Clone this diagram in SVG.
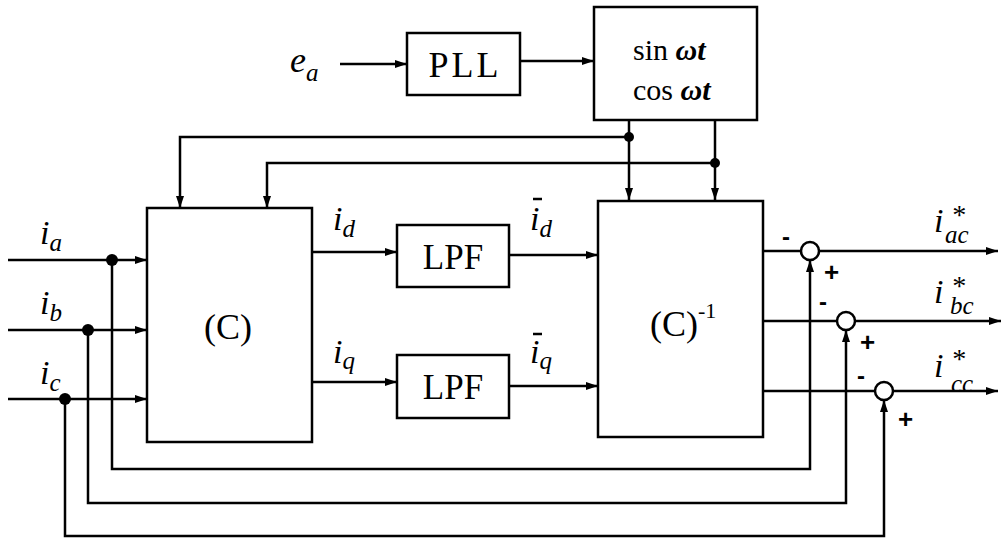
<svg xmlns="http://www.w3.org/2000/svg" width="1003" height="538" viewBox="0 0 1003 538">
<defs>
<marker id="ah" viewBox="0 0 12 8" refX="12" refY="4" markerWidth="12" markerHeight="8" markerUnits="userSpaceOnUse" orient="auto"><path d="M0,0 L12,4 L0,8 z" fill="#000"/></marker>
</defs>
<style>
.box{fill:#fff;stroke:#000;stroke-width:2.5}
.ln{fill:none;stroke:#000;stroke-width:2.5}
.ar{marker-end:url(#ah)}
.dot{fill:#000}
.sum{fill:#fff;stroke:#000;stroke-width:2.5}
.t{font-family:"Liberation Serif",serif;fill:#000}
.it{font-family:"Liberation Serif",serif;font-style:italic;fill:#000}
.sg{font-family:"Liberation Sans",sans-serif;font-weight:bold;fill:#000}
</style>
<rect width="1003" height="538" fill="#fff"/>
<g id="connectors">
<path class="ln ar" d="M340,64 H407"/>
<path class="ln ar" d="M520,61 H594"/>
<path class="ln ar" d="M629,120 V200"/>
<path class="ln ar" d="M715,120 V200"/>
<path class="ln ar" d="M629,137 H180 V208"/>
<path class="ln ar" d="M715,163 H267 V208"/>
<path class="ln ar" d="M8,260 H147"/>
<path class="ln ar" d="M8,330 H147"/>
<path class="ln ar" d="M8,399 H147"/>
<path class="ln ar" d="M312,252 H397"/>
<path class="ln ar" d="M312,382 H397"/>
<path class="ln ar" d="M509,255 H598"/>
<path class="ln ar" d="M509,386 H598"/>
<path class="ln" d="M763,251 H801"/>
<path class="ln ar" d="M819,251 H998"/>
<path class="ln" d="M763,321 H837"/>
<path class="ln ar" d="M855,321 H1001"/>
<path class="ln" d="M763,391 H875"/>
<path class="ln ar" d="M893,391 H998"/>
<path class="ln ar" d="M112,260 V469 H810 V260"/>
<path class="ln ar" d="M88,330 V503 H846 V330"/>
<path class="ln ar" d="M65,399 V536 H884 V400"/>
<circle class="dot" cx="629" cy="137" r="5"/>
<circle class="dot" cx="715" cy="163" r="5"/>
<circle class="dot" cx="112" cy="260" r="6"/>
<circle class="dot" cx="88" cy="330" r="6"/>
<circle class="dot" cx="65" cy="399" r="6"/>
</g>
<g id="PLL">
<rect class="box" x="407" y="33" width="113" height="62"/>
<text class="t" x="465" y="77" font-size="36" letter-spacing="3" text-anchor="middle">PLL</text>
</g>
<g id="sincos">
<rect class="box" x="594" y="7" width="163" height="113"/>
<text class="t" x="633" y="60" font-size="30">sin <tspan class="it" font-weight="bold">ωt</tspan></text>
<text class="t" x="633" y="100" font-size="30">cos <tspan class="it" font-weight="bold">ωt</tspan></text>
</g>
<g id="C">
<rect class="box" x="147" y="208" width="165" height="234"/>
<text class="t" x="228" y="339" font-size="36" text-anchor="middle">(C)</text>
</g>
<g id="LPF1">
<rect class="box" x="397" y="225" width="112" height="62"/>
<text class="t" x="453" y="269" font-size="35" text-anchor="middle">LPF</text>
</g>
<g id="LPF2">
<rect class="box" x="397" y="355" width="112" height="63"/>
<text class="t" x="453" y="399" font-size="35" text-anchor="middle">LPF</text>
</g>
<g id="Cinv">
<rect class="box" x="598" y="201" width="165" height="236"/>
<text class="t" x="650" y="336" font-size="36">(C)<tspan font-size="22" dy="-18">-1</tspan></text>
</g>
<g id="sum1"><circle class="sum" cx="810" cy="251" r="9"/>
<text class="sg" x="782" y="245" font-size="24">-</text><text class="sg" x="824" y="281" font-size="26">+</text></g>
<g id="sum2"><circle class="sum" cx="846" cy="321" r="9"/>
<text class="sg" x="819" y="310" font-size="24">-</text><text class="sg" x="860" y="351" font-size="26">+</text></g>
<g id="sum3"><circle class="sum" cx="884" cy="391" r="9"/>
<text class="sg" x="857" y="384" font-size="24">-</text><text class="sg" x="898" y="428" font-size="26">+</text></g>
<g id="labels">
<text class="it" x="290" y="72" font-size="36">e<tspan font-size="25" dy="9">a</tspan></text>
<text class="it" x="40" y="244" font-size="34">i<tspan font-size="25" dy="7">a</tspan></text>
<text class="it" x="40" y="314" font-size="34">i<tspan font-size="25" dy="7">b</tspan></text>
<text class="it" x="40" y="384" font-size="34">i<tspan font-size="25" dy="7">c</tspan></text>
<text class="it" x="333" y="230" font-size="34">i<tspan font-size="25" dy="7">d</tspan></text>
<text class="it" x="333" y="363" font-size="34">i<tspan font-size="25" dy="6">q</tspan></text>
<text class="it" x="530" y="230" font-size="34">i<tspan font-size="25" dy="7">d</tspan></text>
<path class="ln" d="M533,199 H542"/>
<text class="it" x="530" y="363" font-size="34">i<tspan font-size="25" dy="6">q</tspan></text>
<path class="ln" d="M533,334 H542"/>
<text class="it" x="934" y="232" font-size="34">i<tspan x="951" y="224" font-size="28">*</tspan><tspan x="945" y="243" font-size="25">ac</tspan></text>
<text class="it" x="934" y="303" font-size="34">i<tspan x="951" y="295" font-size="28">*</tspan><tspan x="950" y="314" font-size="25">bc</tspan></text>
<text class="it" x="934" y="377" font-size="34">i<tspan x="951" y="368" font-size="28">*</tspan><tspan x="951" y="392" font-size="25">cc</tspan></text>
</g>
</svg>
